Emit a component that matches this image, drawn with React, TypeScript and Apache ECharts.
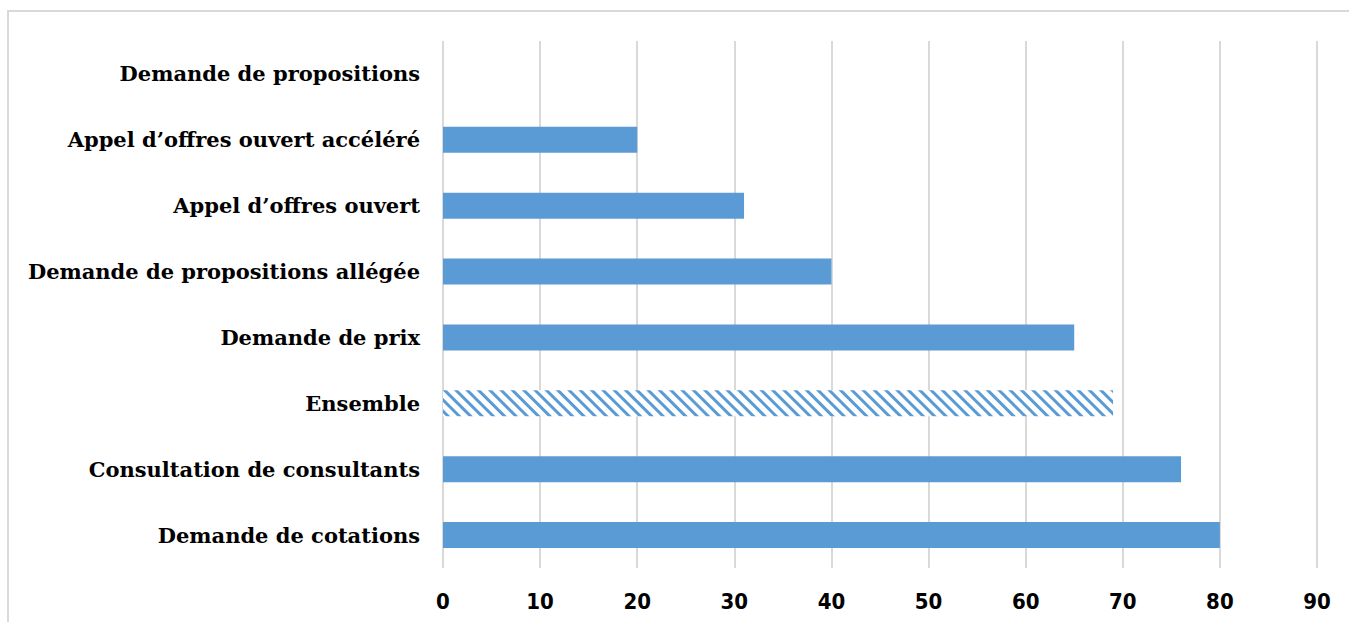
import React, { useEffect, useRef } from "react";
import * as echarts from "echarts";

const categories = [
  "Demande de cotations",
  "Consultation de consultants",
  "Ensemble",
  "Demande de prix",
  "Demande de propositions allégée",
  "Appel d’offres ouvert",
  "Appel d’offres ouvert accéléré",
  "Demande de propositions",
];
const values = [80, 76, 69, 65, 40, 31, 20, 0];
const hatchedCategory = "Ensemble";
const xTicks = { min: 0, max: 90, interval: 10 };

const BLUE = "#5b9bd5";

export default function App() {
  const ref = useRef<HTMLDivElement>(null);
  useEffect(() => {
    if (!ref.current) return;
    const chart = echarts.init(ref.current, undefined, { renderer: "svg" });
    const data = categories.map((c, i) =>
      c === hatchedCategory
        ? {
            value: values[i],
            itemStyle: {
              color: "#ffffff",
              decal: {
                symbol: "rect",
                color: BLUE,
                dashArrayX: [1, 0],
                dashArrayY: [3, 4.5],
                rotation: Math.PI / 4,
                symbolSize: 1,
              },
            },
          }
        : values[i]
    );
    chart.setOption({
      animation: false,
      backgroundColor: "#ffffff",
      grid: { left: 443, right: 32, top: 41, bottom: 54 },
      graphic: [
        {
          type: "rect",
          shape: { x: 8, y: 11, width: 1360, height: 700 },
          style: { fill: "none", stroke: "#d9d9d9", lineWidth: 2 },
          silent: true,
        },
      ],
      xAxis: {
        type: "value",
        min: xTicks.min,
        max: xTicks.max,
        interval: xTicks.interval,
        axisLine: { show: false },
        axisTick: { show: false },
        splitLine: { show: true, lineStyle: { color: "#d9d9d9", width: 2 } },
        axisLabel: {
          color: "#000",
          fontWeight: "bold",
          fontSize: 22,
          fontFamily: "'Liberation Sans Narrow', 'DejaVu Sans Condensed', Roboto, sans-serif",
          margin: 22,
        },
      },
      yAxis: {
        type: "category",
        data: categories,
        axisLine: { show: false },
        axisTick: { show: false },
        axisLabel: {
          color: "#000",
          fontWeight: "bold",
          fontSize: 21,
          fontFamily: "'DejaVu Serif', serif",
          margin: 23,
        },
      },
      series: [
        {
          type: "bar",
          data,
          barWidth: 26,
          itemStyle: { color: BLUE },
        },
      ],
    });
    return () => chart.dispose();
  }, []);
  return (
    <div
      ref={ref}
      style={{ position: "fixed", left: 0, top: 0, width: 1349, height: 622 }}
    />
  );
}
